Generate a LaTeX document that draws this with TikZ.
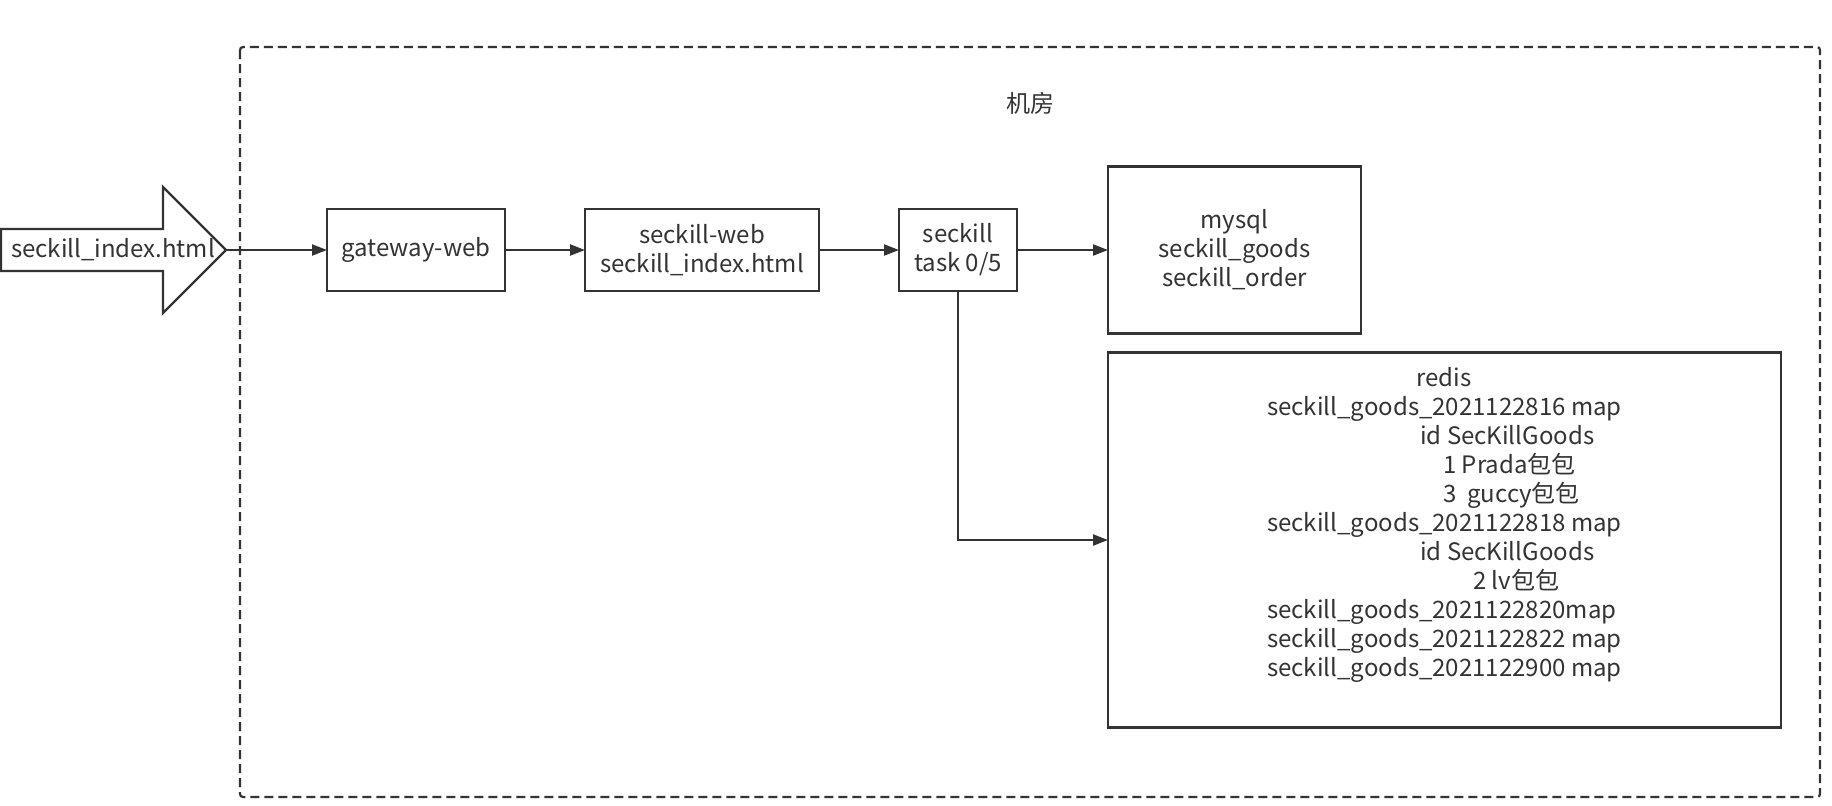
\documentclass[tikz,border=0pt]{standalone}
\usepackage{fontspec}
\setmainfont{Noto Sans CJK SC}
\usepackage{tikz}
\usetikzlibrary{arrows.meta,positioning}
\definecolor{ink}{HTML}{333333}
\tikzstyle{line} = [draw=ink, -{Triangle[length=7.5pt,width=5.5pt]}, line width=1.1pt]
\tikzstyle{box} = [draw=ink, line width=1.1pt, rectangle, inner sep=0pt, outer sep=0pt,
                   align=center, text=ink, minimum height=41pt]

\begin{document}
\begin{tikzpicture}[x=1pt,y=-1pt,font=\fontsize{12}{14.5}\selectfont]
\tikzstyle{ann} = [draw=none,fill=none,text=ink]
\useasboundingbox (0,0) rectangle (916,402.5);
\draw[ink, line width=1.1pt, dash pattern=on 4.5pt off 2.5pt, rounded corners=1.5pt]
  (120,23.5) rectangle (910,398.5);
\node[ann] (room) at (515,51.5) {机房};
\draw[ink, line width=1.1pt] (0.5,114.5) -- (81.5,114.5) -- (81.5,93.5) -- (113,125)
  -- (81.5,156.5) -- (81.5,135.5) -- (0.5,135.5) -- cycle;
\coordinate (tip) at (113,125);
\node[ann] (entry) at (56.5,125) {seckill\_index.html};
\node[box,minimum width=89pt] (gateway) at (208,125) {gateway-web};
\node[box,minimum width=117pt,right=40pt of gateway] (web)
  {seckill-web\\seckill\_index.html};
\node[box,minimum width=59pt,right=40pt of web] (task) {seckill\\task 0/5};
\node[box,minimum width=126.5pt,minimum height=83.5pt,right=45.5pt of task] (mysql)
  {mysql\\seckill\_goods\\seckill\_order};
\node[box,minimum width=336.5pt,minimum height=187.5pt,
      below=9.5pt of mysql.south west,anchor=north west] (redis) {};
\node[ann,align=left,inner sep=0pt] (redisinfo) at ([yshift=7.75pt]redis.center)
  {\hspace*{74.7pt}redis\\
   seckill\_goods\_2021122816 map\\
   \hspace*{76.5pt}id SecKillGoods\\
   \hspace*{88pt}1 Prada包包\\
   \hspace*{88pt}3~~guccy包包\\
   seckill\_goods\_2021122818 map\\
   \hspace*{76.5pt}id SecKillGoods\\
   \hspace*{103pt}2 lv包包\\
   seckill\_goods\_2021122820map\\
   seckill\_goods\_2021122822 map\\
   seckill\_goods\_2021122900 map};
\path [line] (tip) -- (gateway);
\path [line] (gateway) -- (web);
\path [line] (web) -- (task);
\path [line] (task) -- (mysql);
\path [line] (task.south) |- (redis.west);
\end{tikzpicture}
\end{document}
